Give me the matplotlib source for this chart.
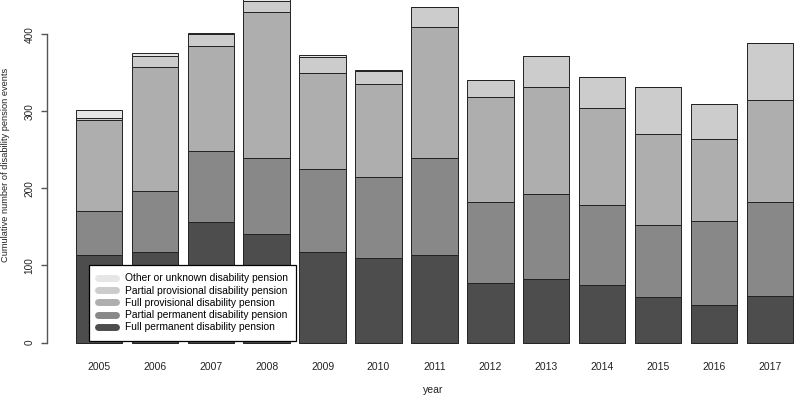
import numpy as np
import matplotlib.pyplot as plt
from matplotlib.lines import Line2D

plt.rcParams['font.family'] = ['Liberation Sans', 'DejaVu Sans']

# Data (cumulative counts per year, by pension type)
years = ['2005', '2006', '2007', '2008', '2009', '2010', '2011',
         '2012', '2013', '2014', '2015', '2016', '2017']
full_permanent = [113, 118, 156, 141, 117, 110, 113, 77, 82, 74, 59, 49, 60]
partial_permanent = [58, 79, 92, 98, 108, 105, 126, 105, 110, 104, 94, 108, 122]
full_provisional = [117, 160, 137, 190, 124, 120, 170, 136, 140, 126, 118, 107, 132]
partial_provisional = [3, 15, 15, 14, 21, 17, 26, 22, 40, 40, 61, 45, 75]
other_unknown = [10, 3, 2, 3, 3, 1, 0, 0, 0, 0, 0, 0, 0]

labels = ['Full permanent disability pension',
          'Partial permanent disability pension',
          'Full provisional disability pension',
          'Partial provisional disability pension',
          'Other or unknown disability pension']
colors = ['#4D4D4D', '#888888', '#AEAEAE', '#CCCCCC', '#E6E6E6']
series = [full_permanent, partial_permanent, full_provisional,
          partial_provisional, other_unknown]

W, H = 794, 395
fig = plt.figure(figsize=(W / 100, H / 100), dpi=100)

# axes placed in pixel terms to match the R layout
ax_left, ax_bottom = 47.3, 356
ax = fig.add_axes([ax_left / W, (H - ax_bottom) / H, 1 - ax_left / W, ax_bottom / H])

x = np.arange(len(years))
bottom = np.zeros(len(years))
for vals, col in zip(series, colors):
    ax.bar(x, vals, width=0.833, bottom=bottom, color=col,
           edgecolor='#222222', linewidth=0.7)
    bottom += np.array(vals)

px_per_bar = 55.9
ax.set_xlim((ax_left - 99) / px_per_bar, (W - 99) / px_per_bar)
ax.set_ylim(-(ax_bottom - 342.5) / 0.771, 342.5 / 0.771)

for s in ['top', 'right', 'bottom']:
    ax.spines[s].set_visible(False)
ax.spines['left'].set_bounds(0, 400)
ax.spines['left'].set_color('#555555')
ax.spines['left'].set_linewidth(1.0)

ax.set_yticks([0, 100, 200, 300, 400])
ax.set_yticklabels(['0', '100', '200', '300', '400'], rotation=90, va='center',
                   fontsize=7.2, color='#222222')
ax.tick_params(axis='y', length=4.3, width=1.0, color='#555555', pad=5)
ax.set_xticks(x)
ax.set_xticklabels(years, fontsize=7.5, color='#222222')
ax.tick_params(axis='x', length=0, pad=4)

fig.text(433 / W, 1 - 390 / H, 'year', ha='center', va='center',
         fontsize=7.5, color='#222222')
fig.text(5.5 / W, 1 - 165 / H, 'Cumulative number of disability pension events',
         ha='center', va='center', rotation=90, fontsize=6.7, color='#222222')

handles = [Line2D([0], [0], color=c, lw=5, solid_capstyle='round')
           for c in colors[::-1]]
leg = ax.legend(handles, labels[::-1], loc='upper left',
                bbox_to_anchor=(89.3 / W, 1 - 265 / H),
                bbox_transform=fig.transFigure, borderaxespad=0,
                fontsize=7.4, handlelength=1.75, handletextpad=0.9,
                labelspacing=0.22, borderpad=0.82, fancybox=False,
                framealpha=1, edgecolor='black')
leg.get_frame().set_linewidth(0.9)

fig.savefig('out.png', dpi=100)
